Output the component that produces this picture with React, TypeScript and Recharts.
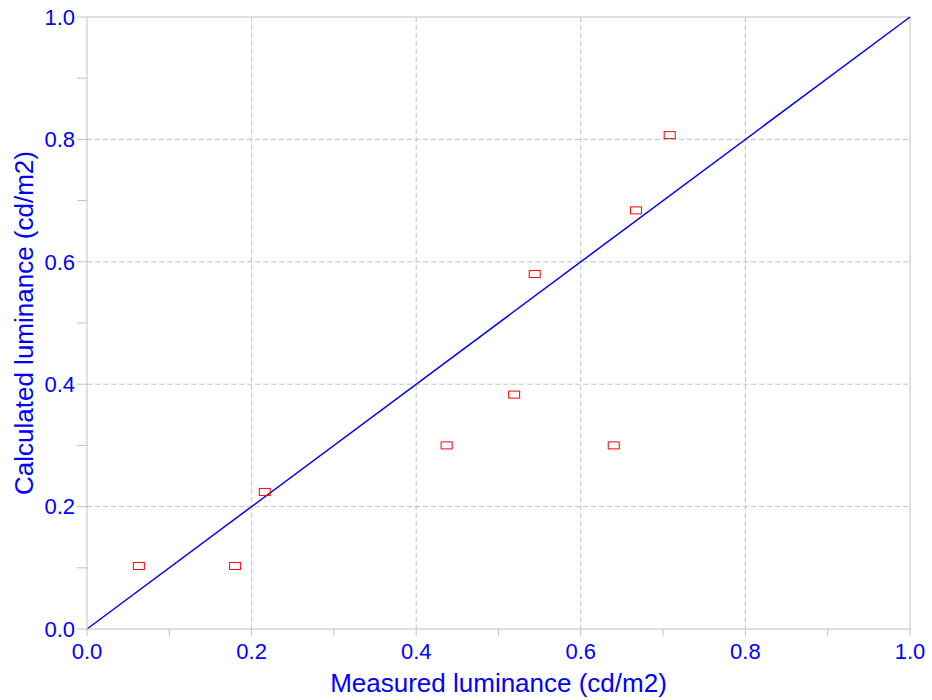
import React from 'react';
import {
  ScatterChart,
  Scatter,
  XAxis,
  YAxis,
  CartesianGrid,
  ReferenceLine,
} from 'recharts';

const measured = [0.063, 0.18, 0.216, 0.437, 0.519, 0.544, 0.64, 0.667, 0.708];
const calculated = [0.103, 0.103, 0.224, 0.3, 0.383, 0.58, 0.3, 0.684, 0.807];
const axisTicks = [0, 0.1, 0.2, 0.3, 0.4, 0.5, 0.6, 0.7, 0.8, 0.9, 1.0];
const gridValues = [0.2, 0.4, 0.6, 0.8];

const points = measured.map((x, i) => ({ x, y: calculated[i] }));

const FONT = '"Liberation Sans", Arial, sans-serif';
const BLUE = '#0000ff';
const FRAME = '#c0c0c0';

const fmt = (v: number) => (Math.round(v * 10) % 2 === 0 ? v.toFixed(1) : '');

const Marker = (props: any) => {
  const { cx, cy } = props;
  return (
    <rect
      x={cx - 5.5}
      y={cy - 3.5}
      width={11}
      height={7}
      fill="none"
      stroke="#ff0000"
      strokeWidth={1}
    />
  );
};

const App: React.FC = () => (
  <div style={{ position: 'absolute', left: 0, top: 0, background: '#fff' }}>
    <ScatterChart
      width={932}
      height={700}
      margin={{ top: 17, right: 22, bottom: 0, left: 0 }}
    >
      <CartesianGrid
        stroke={FRAME}
        strokeDasharray="5 3"
        horizontalValues={gridValues}
        verticalValues={gridValues}
      />
      <XAxis
        type="number"
        dataKey="x"
        domain={[0, 1]}
        ticks={axisTicks}
        tickFormatter={fmt}
        interval={0}
        height={71}
        tickSize={7}
        tickMargin={7}
        stroke={FRAME}
        tick={{ fill: BLUE, fontSize: 22, fontFamily: FONT }}
        label={{
          value: 'Measured luminance (cd/m2)',
          position: 'insideBottom',
          offset: 8,
          fill: BLUE,
          fontSize: 26,
          fontFamily: FONT,
        }}
      />
      <YAxis
        type="number"
        dataKey="y"
        domain={[0, 1]}
        ticks={axisTicks}
        tickFormatter={fmt}
        interval={0}
        width={87}
        tickSize={10}
        tickMargin={2}
        stroke={FRAME}
        tick={{ fill: BLUE, fontSize: 22, fontFamily: FONT }}
        label={{
          value: 'Calculated luminance (cd/m2)',
          angle: -90,
          position: 'insideLeft',
          offset: 24,
          fill: BLUE,
          fontSize: 26,
          fontFamily: FONT,
          style: { textAnchor: 'middle' },
        }}
      />
      <ReferenceLine y={1} stroke={FRAME} />
      <ReferenceLine x={1} stroke={FRAME} />
      <ReferenceLine
        segment={[
          { x: 0, y: 0 },
          { x: 1, y: 1 },
        ]}
        stroke={BLUE}
        strokeWidth={1.5}
      />
      <Scatter data={points} shape={Marker} isAnimationActive={false} />
    </ScatterChart>
  </div>
);

export default App;
